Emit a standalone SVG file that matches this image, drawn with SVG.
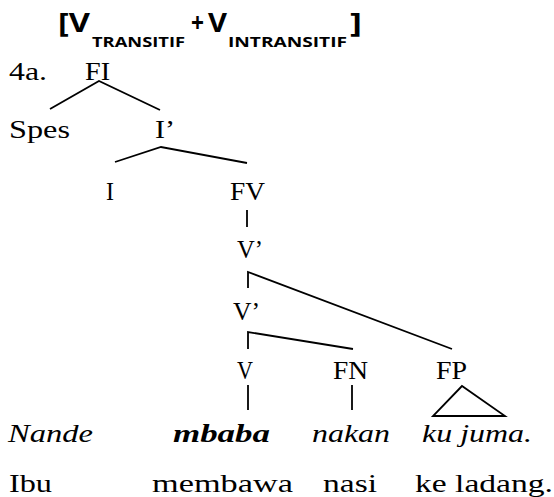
<svg xmlns="http://www.w3.org/2000/svg" width="554" height="497" viewBox="0 0 554 497">
  <style>
    .t { font-family: "Liberation Serif", "DejaVu Serif", serif; font-size: 26px; fill: #000; }
    .it { font-style: italic; }
    .bd { font-weight: bold; }
    .h { font-family: "Open Sans", "Liberation Sans", sans-serif; font-weight: bold; fill: #000; }
    .hb { font-size: 27px; }
    .hs { font-size: 15px; }
    .e { stroke: #000; stroke-width: 1.8; fill: none; stroke-linecap: butt; }
  </style>
  <rect width="554" height="497" fill="#fff"/>

  <!-- heading: verb type combination -->
  <g id="heading">
    <text class="h hb" x="58" y="32" textLength="32" lengthAdjust="spacingAndGlyphs">[V</text>
    <text class="h hs" x="92" y="47" textLength="93" lengthAdjust="spacingAndGlyphs">TRANSITIF</text>
    <text class="h hb" x="191" y="32" textLength="13" lengthAdjust="spacingAndGlyphs">+</text>
    <text class="h hb" x="208" y="32" textLength="19" lengthAdjust="spacingAndGlyphs">V</text>
    <text class="h hs" x="228" y="47" textLength="119" lengthAdjust="spacingAndGlyphs">INTRANSITIF</text>
    <text class="h hb" x="350" y="32" textLength="12" lengthAdjust="spacingAndGlyphs">]</text>
  </g>

  <text id="label-4a" class="t" x="9" y="80" textLength="38" lengthAdjust="spacingAndGlyphs">4a.</text>

  <!-- tree nodes -->
  <g id="node-FI"><text class="t" x="85" y="80" textLength="25" lengthAdjust="spacingAndGlyphs">FI</text></g>
  <g id="node-Spes"><text class="t" x="9" y="138" textLength="61" lengthAdjust="spacingAndGlyphs">Spes</text></g>
  <g id="node-Ibar"><text class="t" x="155" y="138" textLength="20" lengthAdjust="spacingAndGlyphs">I’</text></g>
  <g id="node-I"><text class="t" x="106" y="200" textLength="8" lengthAdjust="spacingAndGlyphs">I</text></g>
  <g id="node-FV"><text class="t" x="230" y="200" textLength="35" lengthAdjust="spacingAndGlyphs">FV</text></g>
  <g id="node-Vbar1"><text class="t" x="237" y="258" textLength="26" lengthAdjust="spacingAndGlyphs">V’</text></g>
  <g id="node-Vbar2"><text class="t" x="233" y="320" textLength="27" lengthAdjust="spacingAndGlyphs">V’</text></g>
  <g id="node-V"><text class="t" x="237" y="379" textLength="16" lengthAdjust="spacingAndGlyphs">V</text></g>
  <g id="node-FN"><text class="t" x="333" y="379" textLength="35" lengthAdjust="spacingAndGlyphs">FN</text></g>
  <g id="node-FP"><text class="t" x="436" y="379" textLength="31" lengthAdjust="spacingAndGlyphs">FP</text></g>

  <!-- branches -->
  <g id="connectors" class="e">
    <polyline class="e" points="50,109 99,81 160,110"/>
    <polyline class="e" points="115,162 161,147 247,163"/>
    <line class="e" x1="247" y1="210" x2="247" y2="227"/>
    <polyline class="e" points="248,288 248,272 452,349"/>
    <polyline class="e" points="248,349 248,332 353,349"/>
    <line class="e" x1="248" y1="385" x2="248" y2="410"/>
    <line class="e" x1="352" y1="385" x2="352" y2="410"/>
    <polygon class="e" points="462,386 433,416 505,416"/>
  </g>

  <!-- Karo sentence -->
  <g id="gloss-karo">
    <text class="t it" x="8" y="442" textLength="85" lengthAdjust="spacingAndGlyphs">Nande</text>
    <text class="t it bd" x="173" y="442" textLength="97" lengthAdjust="spacingAndGlyphs">mbaba</text>
    <text class="t it" x="312" y="442" textLength="78" lengthAdjust="spacingAndGlyphs">nakan</text>
    <text class="t it" x="422" y="442" textLength="110" lengthAdjust="spacingAndGlyphs">ku juma.</text>
  </g>

  <!-- Indonesian translation -->
  <g id="gloss-indonesian">
    <text class="t" x="9" y="492" textLength="43" lengthAdjust="spacingAndGlyphs">Ibu</text>
    <text class="t" x="152" y="492" textLength="141" lengthAdjust="spacingAndGlyphs">membawa</text>
    <text class="t" x="323" y="492" textLength="54" lengthAdjust="spacingAndGlyphs">nasi</text>
    <text class="t" x="415" y="492" textLength="138" lengthAdjust="spacingAndGlyphs">ke ladang.</text>
  </g>
</svg>
